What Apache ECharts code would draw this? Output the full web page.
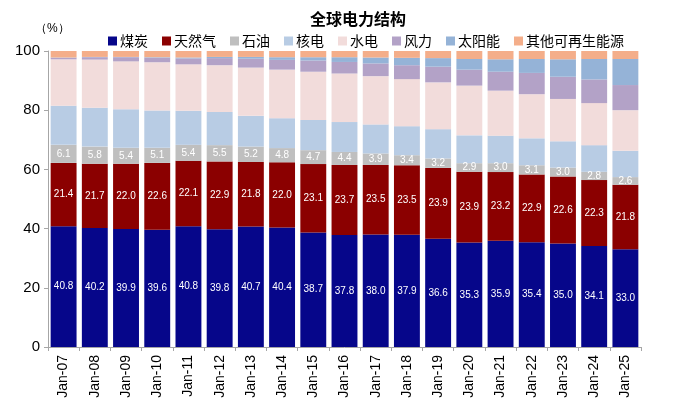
<!DOCTYPE html>
<html><head><meta charset="utf-8">
<script src="https://cdn.jsdelivr.net/npm/echarts@6/dist/echarts.min.js"></script>
<style>html,body{margin:0;padding:0;background:#fff}#c{width:677px;height:410px}</style>
</head><body><div id="c"></div>
<script>
var categories = ['Jan-07','Jan-08','Jan-09','Jan-10','Jan-11','Jan-12','Jan-13','Jan-14','Jan-15','Jan-16','Jan-17','Jan-18','Jan-19','Jan-20','Jan-21','Jan-22','Jan-23','Jan-24','Jan-25'];
var coal    = [40.8,40.2,39.9,39.6,40.8,39.8,40.7,40.4,38.7,37.8,38.0,37.9,36.6,35.3,35.9,35.4,35.0,34.1,33.0];
var gas     = [21.4,21.7,22.0,22.6,22.1,22.9,21.8,22.0,23.1,23.7,23.5,23.5,23.9,23.9,23.2,22.9,22.6,22.3,21.8];
var oil     = [6.1,5.8,5.4,5.1,5.4,5.5,5.2,4.8,4.7,4.4,3.9,3.4,3.2,2.9,3.0,3.1,3.0,2.8,2.6];
var nuclear = [13.2,13.1,13.0,12.6,11.5,11.2,10.4,10.1,10.2,10.1,9.8,9.8,9.9,9.4,9.3,9.1,8.9,9.0,8.9];
var hydro   = [15.7,16.3,16.2,16.3,15.7,15.8,16.3,16.4,16.3,16.4,16.3,15.9,15.8,16.8,15.2,14.9,14.3,14.2,13.7];
var wind    = [0.5,0.8,1.4,1.5,2.0,2.4,3.0,3.3,3.8,3.9,4.3,4.7,5.3,5.4,6.4,7.2,7.5,8.0,8.5];
var solar   = [0.1,0.1,0.1,0.2,0.3,0.4,0.6,0.9,1.1,1.6,2.0,2.5,2.9,3.6,4.2,4.7,5.9,6.9,8.8];
var other   = [2.2,2.0,2.0,2.1,2.2,2.0,2.0,2.1,2.1,2.1,2.2,2.3,2.4,2.7,2.8,2.7,2.8,2.7,2.7];
var yTicks  = [0,20,40,60,80,100];

var names = ['煤炭','天然气','石油','核电','水电','风力','太阳能','其他可再生能源'];
var colors = ['#06068A','#8B0000','#BFBFBF','#B8CCE4','#F2DCDB','#B3A2C7','#95B3D7','#F4AE8A'];
var datas = [coal,gas,oil,nuclear,hydro,wind,solar,other];
var labeled = [true,true,true,false,false,false,false,false];
var font = '"Noto Sans CJK SC","Noto Sans",sans-serif';

var series = names.map(function(n,i){
  return {
    name:n, type:'bar', stack:'total', data:datas[i], barCategoryGap:'17%',
    itemStyle:{color:colors[i]},
    label:{show:labeled[i], position:'inside', color:'#fff', fontSize:10, fontFamily:'Arial, "Liberation Sans", sans-serif',
      formatter:function(p){return p.value.toFixed(1);}}
  };
});

var chart = echarts.init(document.getElementById('c'));
chart.setOption({
  animation:false,
  title:{text:'全球电力结构', left:305, top:6, textStyle:{fontSize:16, fontWeight:'bold', color:'#000', fontFamily:font}},
  legend:{data:names, top:29, left:103, itemWidth:9, itemHeight:9, itemGap:14, icon:'rect',
    textStyle:{fontSize:14, color:'#000', fontFamily:font, padding:[0,0,0,-2]}},
  graphic:[{type:'text', left:35, top:23, style:{text:'（%）', fontSize:12, fill:'#000', font:'12px '+font}}],
  grid:{left:48, right:36, top:51, bottom:63},
  xAxis:{type:'category', data:categories,
    axisLine:{lineStyle:{color:'#A6A6A6'}}, axisTick:{show:true, length:4, lineStyle:{color:'#A6A6A6'}},
    axisLabel:{rotate:90, fontSize:14, color:'#000', fontFamily:'Arial, "Liberation Sans", sans-serif', margin:8}},
  yAxis:{type:'value', min:yTicks[0], max:yTicks[yTicks.length-1], interval:20,
    splitLine:{show:false},
    axisLine:{show:true, lineStyle:{color:'#A6A6A6'}}, axisTick:{show:true, length:4, lineStyle:{color:'#A6A6A6'}},
    axisLabel:{fontSize:15, color:'#000', fontFamily:'Arial, "Liberation Sans", sans-serif', margin:8}},
  series:series
});
</script></body></html>
